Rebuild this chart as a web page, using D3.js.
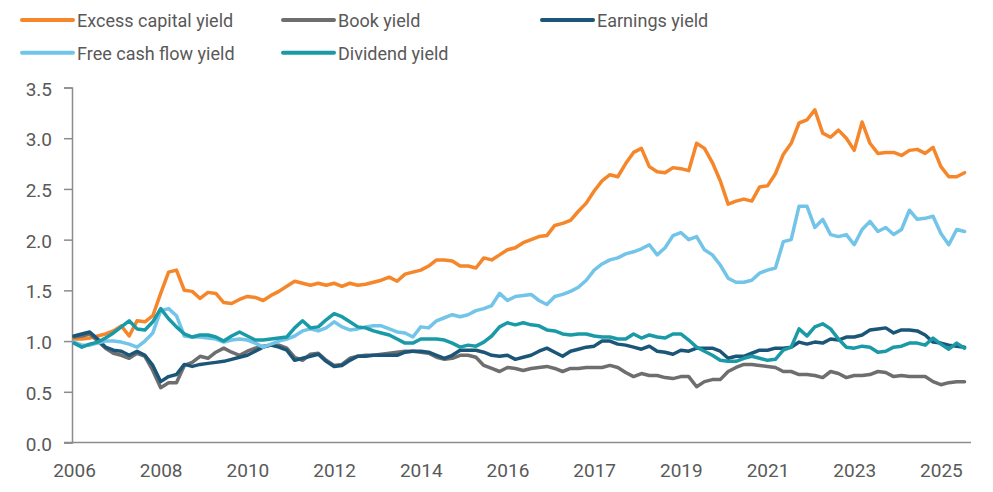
<!DOCTYPE html>
<html>
<head>
<meta charset="utf-8" />
<title>Yields</title>
<script src="https://cdn.jsdelivr.net/npm/d3@7"></script>
<style>
  body { margin: 0; background: #fff; }
  text { font-family: Roboto, "Open Sans", sans-serif; fill: #595959; }
</style>
</head>
<body>
<script>
// month offsets (every 2nd month from the first observation)
var months = d3.range(0, 228, 2);

var tickMonths = [0, 22, 44, 66, 88, 110, 132, 154, 176, 198, 220];
var tickLabels = ["2006", "2008", "2010", "2012", "2014", "2016", "2017", "2019", "2021", "2023", "2025"];

var seriesNames = ["Excess capital yield", "Book yield", "Earnings yield", "Free cash flow yield", "Dividend yield"];
var seriesColors = ["#f5862a", "#6e6e6e", "#1b5678", "#72c4e8", "#1a9aa6"];

var excessCapital = [1.02, 1.02, 1.03, 1.05, 1.07, 1.10, 1.15, 1.05, 1.20, 1.19, 1.25, 1.47, 1.68, 1.70, 1.50, 1.49, 1.42, 1.48, 1.47, 1.38,
  1.37, 1.41, 1.44, 1.43, 1.40, 1.45, 1.49, 1.54, 1.59, 1.57, 1.55, 1.57, 1.55, 1.57, 1.54, 1.57, 1.55, 1.56, 1.58, 1.60,
  1.63, 1.59, 1.66, 1.68, 1.70, 1.74, 1.80, 1.80, 1.79, 1.74, 1.74, 1.72, 1.82, 1.80, 1.85, 1.90, 1.92, 1.97, 2.00, 2.03,
  2.04, 2.14, 2.16, 2.19, 2.28, 2.36, 2.48, 2.58, 2.64, 2.62, 2.75, 2.86, 2.90, 2.72, 2.67, 2.66, 2.71, 2.70, 2.68, 2.95,
  2.90, 2.76, 2.58, 2.35, 2.38, 2.40, 2.38, 2.52, 2.53, 2.65, 2.84, 2.95, 3.15, 3.18, 3.28, 3.05, 3.01, 3.08, 3.00, 2.88,
  3.16, 2.95, 2.85, 2.86, 2.86, 2.83, 2.88, 2.89, 2.85, 2.91, 2.72, 2.62, 2.62, 2.66];

var bookYield = [1.04, 1.05, 1.07, 1.00, 0.93, 0.88, 0.86, 0.83, 0.88, 0.85, 0.71, 0.54, 0.59, 0.59, 0.76, 0.79, 0.85, 0.83, 0.89, 0.93,
  0.89, 0.86, 0.90, 0.93, 0.95, 0.96, 0.96, 0.93, 0.84, 0.81, 0.87, 0.88, 0.81, 0.76, 0.77, 0.83, 0.85, 0.86, 0.86, 0.87,
  0.88, 0.89, 0.90, 0.90, 0.89, 0.88, 0.84, 0.82, 0.83, 0.86, 0.86, 0.84, 0.76, 0.73, 0.70, 0.74, 0.73, 0.71, 0.73, 0.74,
  0.75, 0.73, 0.70, 0.73, 0.73, 0.74, 0.74, 0.74, 0.76, 0.74, 0.69, 0.65, 0.68, 0.66, 0.66, 0.64, 0.63, 0.65, 0.65, 0.55,
  0.60, 0.62, 0.62, 0.70, 0.74, 0.77, 0.77, 0.76, 0.75, 0.74, 0.70, 0.70, 0.67, 0.67, 0.66, 0.64, 0.70, 0.68, 0.64, 0.66,
  0.66, 0.67, 0.70, 0.69, 0.65, 0.66, 0.65, 0.65, 0.65, 0.60, 0.57, 0.59, 0.60, 0.60];

var earningsYield = [1.05, 1.07, 1.09, 1.02, 0.94, 0.91, 0.90, 0.86, 0.90, 0.86, 0.76, 0.60, 0.65, 0.67, 0.77, 0.75, 0.77, 0.78, 0.79, 0.80,
  0.82, 0.84, 0.86, 0.90, 0.94, 0.96, 0.94, 0.91, 0.81, 0.83, 0.85, 0.87, 0.80, 0.75, 0.76, 0.81, 0.85, 0.85, 0.86, 0.86,
  0.86, 0.86, 0.89, 0.90, 0.90, 0.89, 0.86, 0.83, 0.86, 0.91, 0.91, 0.91, 0.89, 0.86, 0.85, 0.86, 0.82, 0.84, 0.86, 0.90,
  0.93, 0.89, 0.85, 0.90, 0.92, 0.94, 0.95, 1.00, 1.00, 0.97, 0.96, 0.94, 0.92, 0.95, 0.90, 0.89, 0.87, 0.91, 0.90, 0.93,
  0.93, 0.93, 0.90, 0.83, 0.85, 0.85, 0.88, 0.91, 0.91, 0.93, 0.93, 0.94, 0.99, 0.97, 0.99, 0.98, 1.02, 1.01, 1.04, 1.04,
  1.06, 1.11, 1.12, 1.13, 1.08, 1.11, 1.11, 1.10, 1.06, 0.99, 0.98, 0.96, 0.95, 0.94];

var freeCashFlow = [0.99, 0.96, 0.96, 0.98, 1.00, 1.00, 0.99, 0.97, 0.94, 1.00, 1.08, 1.30, 1.32, 1.25, 1.05, 1.04, 1.04, 1.03, 1.02, 0.99,
  1.01, 1.02, 1.01, 0.98, 0.94, 0.97, 1.00, 1.02, 1.05, 1.10, 1.12, 1.10, 1.13, 1.19, 1.14, 1.11, 1.12, 1.14, 1.15, 1.15,
  1.12, 1.09, 1.08, 1.04, 1.14, 1.13, 1.20, 1.23, 1.26, 1.24, 1.26, 1.30, 1.32, 1.35, 1.47, 1.40, 1.44, 1.45, 1.46, 1.40,
  1.36, 1.44, 1.46, 1.49, 1.53, 1.60, 1.70, 1.76, 1.80, 1.82, 1.86, 1.88, 1.91, 1.95, 1.85, 1.92, 2.04, 2.07, 2.00, 2.03,
  1.90, 1.85, 1.75, 1.62, 1.58, 1.58, 1.60, 1.67, 1.70, 1.72, 1.98, 2.00, 2.33, 2.33, 2.12, 2.20, 2.05, 2.03, 2.05, 1.95,
  2.10, 2.18, 2.08, 2.12, 2.05, 2.10, 2.29, 2.20, 2.21, 2.23, 2.06, 1.95, 2.10, 2.08];

var dividendYield = [0.98, 0.94, 0.97, 0.99, 1.03, 1.08, 1.14, 1.20, 1.12, 1.11, 1.19, 1.32, 1.22, 1.14, 1.07, 1.04, 1.06, 1.06, 1.04, 1.00,
  1.05, 1.09, 1.05, 1.01, 1.01, 1.02, 1.03, 1.04, 1.13, 1.20, 1.13, 1.14, 1.21, 1.27, 1.24, 1.19, 1.14, 1.13, 1.10, 1.08,
  1.06, 1.02, 0.98, 0.98, 1.02, 1.02, 1.02, 1.01, 0.98, 0.94, 0.96, 0.95, 0.99, 1.05, 1.14, 1.18, 1.16, 1.18, 1.16, 1.15,
  1.11, 1.10, 1.07, 1.06, 1.07, 1.07, 1.05, 1.04, 1.04, 1.02, 1.02, 1.07, 1.03, 1.06, 1.04, 1.03, 1.07, 1.07, 1.01, 0.94,
  0.90, 0.86, 0.81, 0.80, 0.80, 0.83, 0.85, 0.83, 0.81, 0.82, 0.91, 0.94, 1.12, 1.05, 1.14, 1.17, 1.12, 1.02, 0.94, 0.93,
  0.95, 0.94, 0.89, 0.90, 0.94, 0.95, 0.98, 0.98, 0.96, 1.03, 0.97, 0.92, 0.98, 0.93];

var allSeries = [excessCapital, bookYield, earningsYield, freeCashFlow, dividendYield];

var width = 993, height = 492;

var svg = d3.select("body").append("svg")
  .attr("width", width)
  .attr("height", height);

var x = d3.scaleLinear().domain([0, 227]).range([74, 968.5]);
var y = d3.scaleLinear().domain([0, 3.5]).range([442.5, 87.5]);

// y axis
var yAxis = svg.append("g")
  .attr("transform", "translate(72,0)")
  .call(d3.axisLeft(y).tickValues(d3.range(0, 3.51, 0.5)).tickFormat(d3.format(".1f")).tickSize(8).tickPadding(12));
yAxis.select(".domain").attr("stroke", "#8c8c8c").attr("stroke-width", 1.5);
yAxis.selectAll(".tick line").attr("stroke", "#8c8c8c").attr("stroke-width", 1.5);
yAxis.selectAll("text").style("font-size", "19px").attr("dy", "0.4em").attr("fill", "#595959");

// x axis
var xAxis = svg.append("g")
  .attr("transform", "translate(0,442.5)")
  .call(d3.axisBottom(x).tickValues(tickMonths).tickFormat(function (d, i) { return tickLabels[i]; }).tickSize(0).tickSizeOuter(0));
xAxis.select(".domain").attr("d", "M64,0H971").attr("stroke", "#8c8c8c").attr("stroke-width", 1.5);
xAxis.selectAll("text").style("font-size", "19px").attr("dy", null).attr("y", 34.5).attr("fill", "#595959");

// lines
var line = d3.line()
  .x(function (d, i) { return x(months[i]); })
  .y(function (d) { return y(d); });

svg.append("g").selectAll("path.series")
  .data(allSeries)
  .enter().append("path")
  .attr("class", "series")
  .attr("fill", "none")
  .attr("stroke", function (d, i) { return seriesColors[i]; })
  .attr("stroke-width", 3.5)
  .attr("stroke-linejoin", "round")
  .attr("stroke-linecap", "round")
  .attr("d", line);

// legend
var legendPos = [[22, 20], [283, 20], [542, 20], [22, 52.7], [283, 52.7]];
var legend = svg.append("g").selectAll("g.item")
  .data(seriesNames)
  .enter().append("g")
  .attr("class", "item")
  .attr("transform", function (d, i) { return "translate(" + legendPos[i][0] + "," + legendPos[i][1] + ")"; });
legend.append("line")
  .attr("x1", 0).attr("x2", 51)
  .attr("stroke", function (d, i) { return seriesColors[i]; })
  .attr("stroke-width", 4)
  .attr("stroke-linecap", "round");
legend.append("text")
  .attr("x", 55)
  .attr("y", 7)
  .style("font-size", "18px")
  .text(function (d) { return d; });
</script>
</body>
</html>
